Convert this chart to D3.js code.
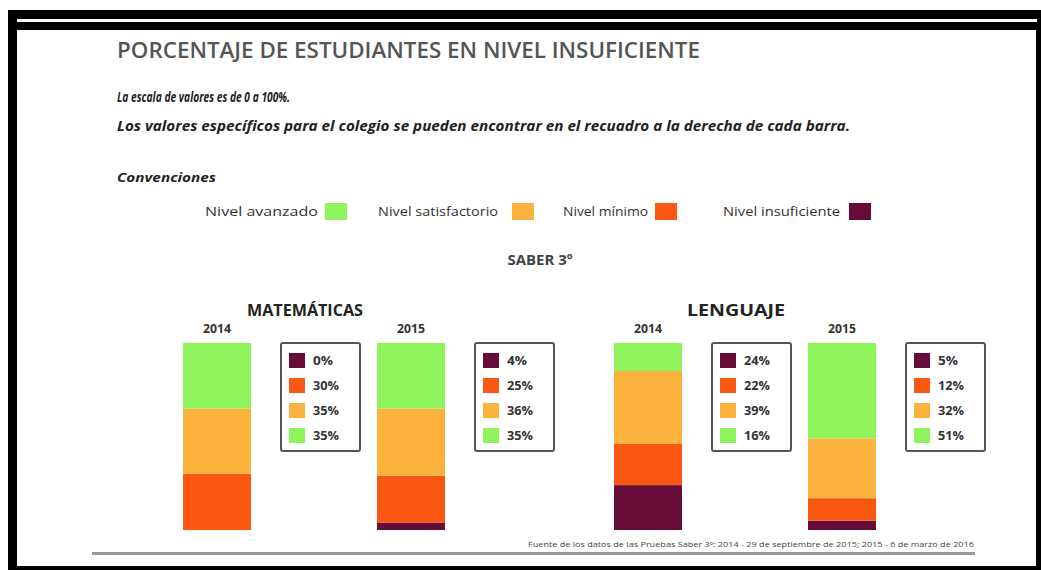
<!DOCTYPE html>
<html><head><meta charset="utf-8">
<script src="https://cdn.jsdelivr.net/npm/d3@7"></script>
<style>html,body{margin:0;padding:0;background:#fff;}svg{display:block;}</style>
</head><body>
<svg id="chart" width="1041" height="570"></svg>
<script>
// ---- data ----
const subjects = ["MATEMÁTICAS", "LENGUAJE"];
const years = ["2014", "2015"];
const levels = ["Nivel avanzado", "Nivel satisfactorio", "Nivel mínimo", "Nivel insuficiente"];
const levelColors = ["#8ff35c", "#fcb33d", "#fa5812", "#670b38"];
// values per bar: [MAT 2014, MAT 2015, LEN 2014, LEN 2015]
const insuficiente = [0, 4, 24, 5];
const minimo = [30, 25, 22, 12];
const satisfactorio = [35, 36, 39, 32];
const avanzado = [35, 35, 16, 51];
const boxLabels = [
  ["0%", "30%", "35%", "35%"],
  ["4%", "25%", "36%", "35%"],
  ["24%", "22%", "39%", "16%"],
  ["5%", "12%", "32%", "51%"]
];

const svg = d3.select("#chart");
const F = "'Open Sans', 'DejaVu Sans', sans-serif";

// frame
svg.append("rect").attr("x", 8).attr("y", 10).attr("width", 1033).attr("height", 560).attr("fill", "#000");
svg.append("rect").attr("x", 17).attr("y", 30).attr("width", 1019).attr("height", 536).attr("fill", "#fff");
svg.append("rect").attr("x", 17).attr("y", 19).attr("width", 1020).attr("height", 3).attr("fill", "#fff");

function txt(x, y, s, o) {
  const t = svg.append("text").attr("x", x).attr("y", y).text(s)
    .attr("font-family", F).attr("font-size", o.size).attr("fill", o.fill || "#222")
    .attr("font-weight", o.weight || "normal").attr("font-style", o.style || "normal")
    .attr("text-anchor", o.anchor || "start");
  if (o.len) t.attr("textLength", o.len).attr("lengthAdjust", "spacingAndGlyphs");
  return t;
}

txt(117, 58, "PORCENTAJE DE ESTUDIANTES EN NIVEL INSUFICIENTE", {size: 22, fill: "#555", weight: 600, len: 583});
txt(117, 102, "La escala de valores es de 0 a 100%.", {size: 13.5, weight: "bold", style: "italic", len: 173});
txt(117, 131, "Los valores específicos para el colegio se pueden encontrar en el recuadro a la derecha de cada barra.", {size: 13.5, weight: "bold", style: "italic", len: 733});
txt(117, 182, "Convenciones", {size: 13, weight: "bold", style: "italic", len: 99});

// legend
const legX = [205, 378, 563, 723];
const legLen = [113, 120, 85, 117];
const swX = [325, 512, 655, 849];
levels.forEach((l, i) => {
  txt(legX[i], 216, l, {size: 13, fill: "#333", len: legLen[i]});
  svg.append("rect").attr("x", swX[i]).attr("y", 203).attr("width", 22).attr("height", 17).attr("fill", levelColors[i]);
});

txt(540, 265, "SABER 3º", {size: 15, fill: "#444", weight: "bold", anchor: "middle", len: 65});

// scales
const x0 = d3.scaleBand().domain(subjects).range([183, 1045]);
const x1 = d3.scaleBand().domain(years).range([0, 388]);
const barW = 68;
const y = d3.scaleLinear().domain([0, 100]).range([530, 343]);

subjects.forEach((s, si) => {
  txt(x0(s) + 122, 316, s, {size: 16, weight: "bold", fill: "#222", anchor: "middle", len: s.length > 9 ? 116 : 98});
});

const barIdx = [];
subjects.forEach(s => years.forEach(yr => barIdx.push({s, yr})));

barIdx.forEach((b, i) => {
  const bx = x0(b.s) + x1(b.yr);
  const stack = [
    {v: insuficiente[i], c: levelColors[3]},
    {v: minimo[i], c: levelColors[2]},
    {v: satisfactorio[i], c: levelColors[1]},
    {v: avanzado[i], c: levelColors[0]}
  ];
  let cum = 0;
  const g = svg.append("g");
  stack.forEach(seg => {
    const y0 = cum, y1 = cum + seg.v;
    cum = y1;
    if (seg.v <= 0) return;
    g.append("rect").attr("x", bx).attr("width", barW)
      .attr("y", y(Math.min(y1, 100))).attr("height", y(y0) - y(Math.min(y1, 100)))
      .attr("fill", seg.c);
  });
  txt(bx + barW / 2, 333, b.yr, {size: 12, weight: "bold", fill: "#333", anchor: "middle", len: 28});

  // value box
  const boxX = bx + 98;
  svg.append("rect").attr("x", boxX).attr("y", 343).attr("width", 79).attr("height", 108)
    .attr("rx", 2).attr("fill", "#fff").attr("stroke", "#555").attr("stroke-width", 2);
  const boxColors = [levelColors[3], levelColors[2], levelColors[1], levelColors[0]];
  boxLabels[i].forEach((lab, k) => {
    const cy = 361 + k * 25;
    svg.append("rect").attr("x", boxX + 8).attr("y", cy - 8).attr("width", 16).attr("height", 15).attr("fill", boxColors[k]);
    txt(boxX + 32, cy + 4, lab, {size: 12, weight: "bold", fill: "#333", len: lab.length === 2 ? 20 : 26});
  });
});

txt(528, 547, "Fuente de los datos de las Pruebas Saber 3º: 2014 - 29 de septiembre de 2015; 2015 - 6 de marzo de 2016", {size: 7, fill: "#444", len: 446});
svg.append("rect").attr("x", 92).attr("y", 552).attr("width", 883).attr("height", 3).attr("fill", "#999");
</script>
</body></html>
